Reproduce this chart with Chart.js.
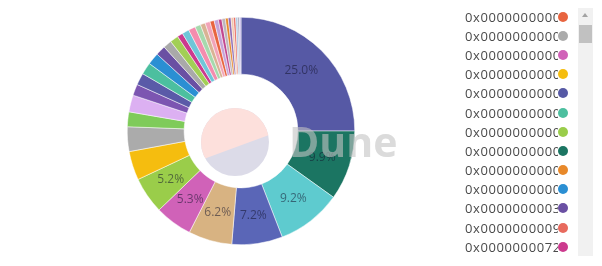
<!DOCTYPE html>
<html>
<head>
<meta charset="utf-8">
<script src="https://cdn.jsdelivr.net/npm/chart.js@4"></script>
<style>
  html, body { margin: 0; padding: 0; background: #fff; }
  body { width: 602px; height: 266px; position: relative; overflow: hidden; font-family: "Open Sans", sans-serif; }
  #wrap { position: absolute; left: 127px; top: 17px; width: 228px; height: 228px; }
  #mark { position: absolute; left: 0; top: 0; width: 602px; height: 266px; pointer-events: none; }
  #legend { position: absolute; left: 465px; top: 7px; width: 105px; height: 252px; overflow: hidden; }
  .item { height: 19.2px; display: flex; align-items: center; }
  .item .txt { width: 93px; overflow: hidden; white-space: nowrap; font-size: 13px; letter-spacing: 0.6px; color: #4a4a4a; }
  .item .dot { width: 10px; height: 10px; border-radius: 50%; flex: none; }
  #sb { position: absolute; left: 578px; top: 8px; width: 15px; height: 248px; background: #f1f1f1; }
  #sb .up { position: absolute; left: 4px; top: 5px; width: 0; height: 0; border-left: 3.5px solid transparent; border-right: 3.5px solid transparent; border-bottom: 4px solid #a3a3a3; }
  #sb .thumb { position: absolute; left: 1px; top: 17px; width: 13px; height: 18px; background: #c1c1c1; }
</style>
</head>
<body>
<div id="wrap"><canvas id="pie"></canvas></div>
<svg id="mark" width="602" height="266">
  <defs><clipPath id="logo"><circle cx="235" cy="142" r="34"/></clipPath></defs>
  <g clip-path="url(#logo)">
    <rect x="195" y="100" width="80" height="90" fill="#dcdbe8"/>
    <polygon points="190,164 280,131 280,100 190,100" fill="#fde0dc"/>
  </g>
  <text x="289" y="157" font-family="Open Sans" font-weight="bold" font-size="41" fill="rgba(195,195,195,0.6)">Dune</text>
</svg>
<div id="legend"></div>
<div id="sb"><div class="up"></div><div class="thumb"></div></div>
<script>
// slices, in drawing order (clockwise from 12 o'clock)
var labels = [
  '0x00000000000071a4b9a8c1b3e1e0c7dcd9b17d0e',
  '0x000000000000c2a4b7e1a7f0e1d6c3b45d7b4a8e',
  '0x1f98431c8ad98523631ae4a59f267346ea31f984',
  '0x2a5c4bd7e1f0a3c6d9b8e7f6a5c4b3d2e1f0a9b8',
  '0x3b1f0c7d9e2a4b6c8d0e1f2a3b4c5d6e7f8a9b0c',
  '0x00000000000045166c45af0fc6e4cf31d9e14b9a',
  '0x000000000000a98a1dbe3f4d9c2e6fe06f3ba36f',
  '0x000000000000541e251335090ac5b47176af4f7e',
  '0x00000000000000adc04c56bf30ac9d3c0aaf14dc',
  '0x4c2d9e8f7a6b5c4d3e2f1a0b9c8d7e6f5a4b3c2d',
  '0x5d3e0f9a8b7c6d5e4f3a2b1c0d9e8f7a6b5c4d3e',
  '0x6e4f1a0b9c8d7e6f5a4b3c2d1e0f9a8b7c6d5e4f',
  '0x7f5a2b1c0d9e8f7a6b5c4d3e2f1a0b9c8d7e6f5a',
  '0x0000000000007f150bd6f54c40a34d7c3d5e9f56',
  '0x000000000000e4a0f7b6d1b8c2d98e61f9d0c7e2',
  '0x0000000003b3cc22af3ae1eac0440bcee416b40a',
  '0x806b3c2d1e0f9a8b7c6d5e4f3a2b1c0d9e8f7a6b',
  '0x917c4d3e2f1a0b9c8d7e6f5a4b3c2d1e0f9a8b7c',
  '0x0000000072847fa1d1c8c2b0ef4c1c05e4a7f641',
  '0xa28d5e4f3a2b1c0d9e8f7a6b5c4d3e2f1a0b9c8d',
  '0xb39e6f5a4b3c2d1e0f9a8b7c6d5e4f3a2b1c0d9e',
  '0xc4af7a6b5c4d3e2f1a0b9c8d7e6f5a4b3c2d1e0f',
  '0xd5b08b7c6d5e4f3a2b1c0d9e8f7a6b5c4d3e2f1a',
  '0xe6c19c8d7e6f5a4b3c2d1e0f9a8b7c6d5e4f3a2b',
  '0x0000000000000000000000000000000000000000',
  '0xf7d2ad9e8f7a6b5c4d3e2f1a0b9c8d7e6f5a4b3c',
  '0xa8e3be0f9a8b7c6d5e4f3a2b1c0d9e8f7a6b5c4d',
  '0xb9f4cf1a0b9c8d7e6f5a4b3c2d1e0f9a8b7c6d5e',
  '0x000000000000d9d2a5e8a3f0b6c1a47e7ba6c5d3',
  '0xca05d02b1c0d9e8f7a6b5c4d3e2f1a0b9c8d7e6f',
  '0xdb16e13c2d1e0f9a8b7c6d5e4f3a2b1c0d9e8f7a',
  '0x000000000995413afc295d19edeb1ad7b71c9520',
  '0xec27f24d3e2f1a0b9c8d7e6f5a4b3c2d1e0f9a8b',
  '0xfd38035e4f3a2b1c0d9e8f7a6b5c4d3e2f1a0b9c',
  '0x8e4914cf5a4b3c2d1e0f9a8b7c6d5e4f3a2b1c0d'
];
var shares = [25.0, 9.9, 9.2, 7.2, 6.2, 5.3, 5.2, 4.1, 3.5, 2.1, 2.4, 1.6, 1.7, 1.7, 1.7, 1.4, 1.2, 1.2, 0.8, 1.0, 1.0, 0.8, 0.7,
              0.7, 0.6, 0.6, 0.5, 0.5, 0.4, 0.4, 0.35, 0.3, 0.3, 0.25, 0.2];
var colors = ['#5659a5', '#1b7562', '#5ecbcf', '#5a66b7', '#d8b382', '#d062b8', '#9acd4a', '#f5bd0f', '#ababab',
              '#7fcb5a', '#dcb0f2', '#7c55b1', '#5a5aa8', '#4cbf9f', '#2b8fd3', '#6a50a3', '#a9a9a9', '#a2cf55',
              '#cc3a8e', '#6fc6d8', '#f48cae', '#a6d9ad', '#d9b394',
              '#f2a4b8', '#e8643f', '#c5a3d8', '#c2478f', '#bdb5bd', '#e8892a', '#8f6db5', '#f0c6ac', '#e86a5e',
              '#aac6e2', '#a7a5b5', '#bfb0e6'];
var min_label_pct = 5;

var pct_labels = {
    id: 'pct_labels',
    afterDatasetsDraw: function(chart) {
        var ctx = chart.ctx;
        var meta = chart.getDatasetMeta(0);
        var total = shares.reduce(function(a, b) { return a + b; }, 0);
        ctx.save();
        ctx.font = '12px "Open Sans"';
        ctx.fillStyle = 'rgba(20,20,45,0.55)';
        ctx.textAlign = 'center';
        ctx.textBaseline = 'middle';
        meta.data.forEach(function(arc, i) {
            var pct = shares[i] / total * 100;
            if (pct < min_label_pct) return;
            var p = arc.tooltipPosition();
            ctx.fillText(pct.toFixed(1) + '%', p.x, p.y);
        });
        ctx.restore();
    }
};

new Chart(document.getElementById('pie'), {
    type: 'doughnut',
    data: {
        labels: labels,
        datasets: [{
            data: shares,
            backgroundColor: colors,
            borderColor: '#fff',
            borderWidth: 0.5,
            hoverOffset: 0
        }]
    },
    options: {
        animation: false,
        responsive: true,
        maintainAspectRatio: false,
        cutout: '50%',
        layout: {padding: 0},
        plugins: {
            legend: {display: false},
            tooltip: {enabled: false}
        }
    },
    plugins: [pct_labels]
});

// legend sorted by address, like the original
var legend = document.getElementById('legend');
labels.map(function(l, i) { return i; })
    .sort(function(a, b) { return labels[a] < labels[b] ? -1 : 1; })
    .forEach(function(i) {
        var row = document.createElement('div');
        row.className = 'item';
        row.innerHTML = '<span class="txt">' + labels[i] + '</span><span class="dot" style="background:' + colors[i] + '"></span>';
        legend.appendChild(row);
    });
</script>
</body>
</html>
